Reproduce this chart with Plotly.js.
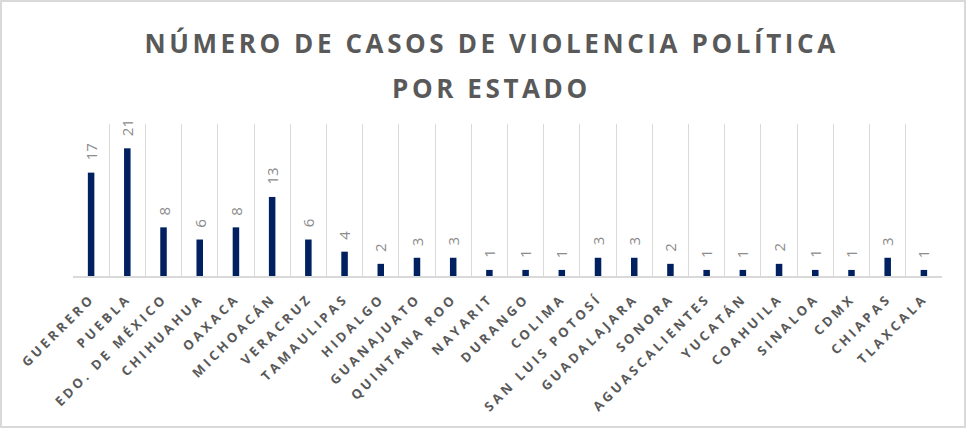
<!DOCTYPE html>
<html>
<head>
<meta charset="utf-8">
<script src="https://cdn.plot.ly/plotly-3.0.1.min.js"></script>
<style>
  body { margin: 0; padding: 0; background: #fff; }
  #wrap { position: relative; width: 966px; height: 428px; }
  #chart { width: 966px; height: 428px; }
  #frame { position: absolute; left: 0; top: 0; width: 966px; height: 428px; box-sizing: border-box; border: 2px solid #d9d9d9; pointer-events: none; }
  .xtick text { letter-spacing: 3.3px; }
  g.annotation[data-index="0"] text, g.annotation[data-index="1"] text { letter-spacing: 3.6px; }
</style>
</head>
<body>
<div id="wrap">
  <div id="chart"></div>
  <div id="frame"></div>
</div>
<script>
const estados = ["GUERRERO", "PUEBLA", "EDO. DE MÉXICO", "CHIHUAHUA", "OAXACA", "MICHOACÁN", "VERACRUZ", "TAMAULIPAS", "HIDALGO", "GUANAJUATO", "QUINTANA ROO", "NAYARIT", "DURANGO", "COLIMA", "SAN LUIS POTOSÍ", "GUADALAJARA", "SONORA", "AGUASCALIENTES", "YUCATÁN", "COAHUILA", "SINALOA", "CDMX", "CHIAPAS", "TLAXCALA"];
const casos = [17, 21, 8, 6, 8, 13, 6, 4, 2, 3, 3, 1, 1, 1, 3, 3, 2, 1, 1, 2, 1, 1, 3, 1];
const tituloLinea1 = "NÚMERO DE CASOS DE VIOLENCIA POLÍTICA";
const tituloLinea2 = "POR ESTADO";

const trace = {
  type: "bar",
  x: estados,
  y: casos,
  marker: { color: "#002060" },
  hoverinfo: "x+y"
};

const titleFont = { family: "Open Sans, sans-serif", size: 26, color: "#595959", weight: "bold" };

const annotations = [
  { xref: "paper", yref: "paper", x: 0.482, y: 1.535, text: "<b>" + tituloLinea1 + "</b>", showarrow: false, font: titleFont, xanchor: "center", yanchor: "middle" },
  { xref: "paper", yref: "paper", x: 0.482, y: 1.238, text: "<b>" + tituloLinea2 + "</b>", showarrow: false, font: titleFont, xanchor: "center", yanchor: "middle" }
].concat(estados.map((e, i) => ({
  x: e, y: casos[i], xref: "x", yref: "y",
  text: String(casos[i]), textangle: -90, showarrow: false,
  xanchor: "center", yanchor: "bottom", yshift: 10,
  font: { family: "Open Sans, sans-serif", size: 15, color: "#8c8c8c" }
})));

const layout = {
  width: 966, height: 428,
  margin: { l: 73, r: 24, t: 124, b: 152 },
  paper_bgcolor: "#ffffff",
  plot_bgcolor: "#ffffff",
  showlegend: false,
  bargap: 0.82,
  xaxis: {
    type: "category",
    tickson: "boundaries",
    showgrid: true,
    gridcolor: "#d9d9d9",
    gridwidth: 1.3,
    showline: true,
    linecolor: "#d9d9d9",
    linewidth: 1.5,
    ticks: "",
    ticklabelstandoff: 8,
    tickangle: -45,
    tickfont: { family: "Open Sans, sans-serif", size: 13, color: "#595959", weight: "bold" },
    fixedrange: true
  },
  yaxis: {
    range: [0, 25],
    showgrid: false,
    zeroline: false,
    showticklabels: false,
    showline: false,
    ticks: "",
    fixedrange: true
  },
  annotations: annotations
};

Plotly.newPlot("chart", [trace], layout, { displayModeBar: false, staticPlot: false });
</script>
</body>
</html>
